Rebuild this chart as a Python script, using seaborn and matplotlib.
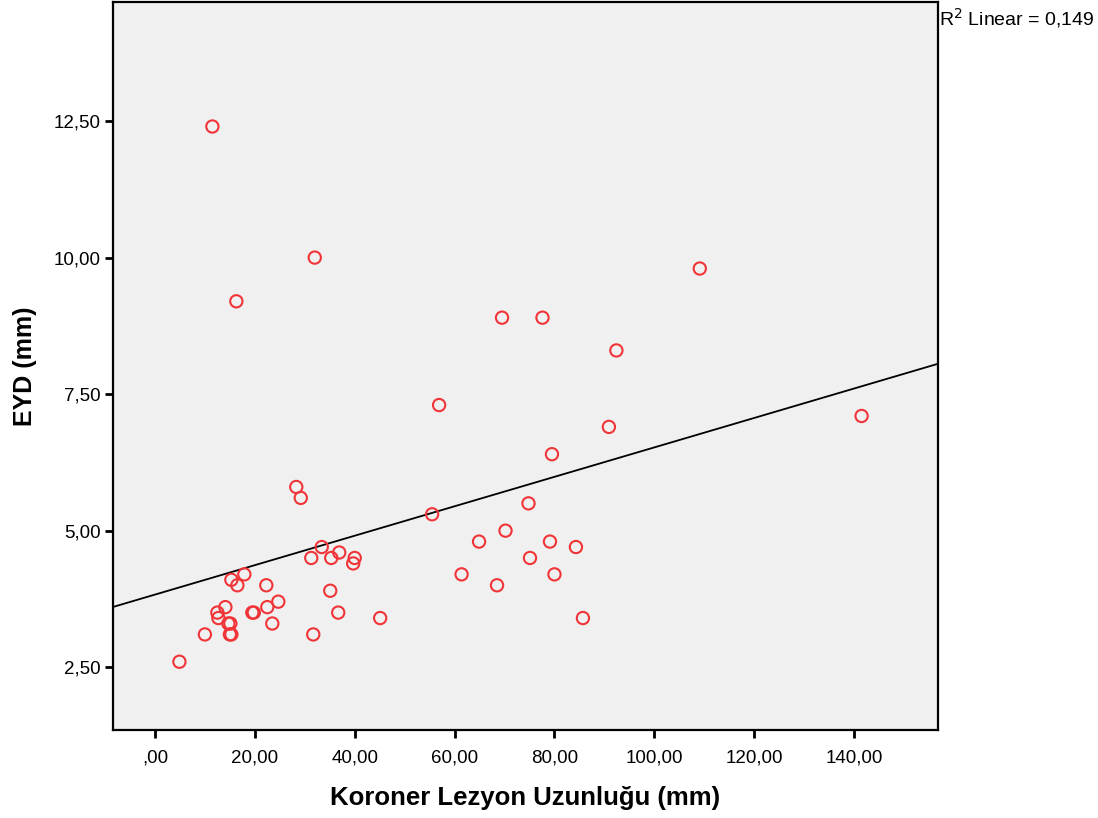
import numpy as np
import pandas as pd
import matplotlib
matplotlib.use("Agg")
import matplotlib.pyplot as plt
import seaborn as sns

# Data
lesion_length = [4.9, 10.0, 11.5, 12.5, 12.7, 14.1, 14.7, 15.1, 15.0, 15.3,
                 15.3, 16.3, 16.5, 17.9, 19.5, 19.8, 22.3, 22.5, 23.5, 24.7,
                 28.3, 29.2, 31.3, 31.7, 32.0, 33.4, 35.3, 35.1, 36.7, 36.9,
                 39.7, 40.0, 45.1, 55.5, 56.9, 61.4, 64.9, 68.5, 69.5, 70.2,
                 74.8, 75.1, 77.6, 79.1, 79.5, 80.0, 84.3, 85.7, 90.9, 92.4,
                 109.1, 141.5]
eyd = [2.6, 3.1, 12.4, 3.5, 3.4, 3.6, 3.3, 3.3, 3.1, 3.1,
       4.1, 9.2, 4.0, 4.2, 3.5, 3.5, 4.0, 3.6, 3.3, 3.7,
       5.8, 5.6, 4.5, 3.1, 10.0, 4.7, 4.5, 3.9, 3.5, 4.6,
       4.4, 4.5, 3.4, 5.3, 7.3, 4.2, 4.8, 4.0, 8.9, 5.0,
       5.5, 4.5, 8.9, 4.8, 6.4, 4.2, 4.7, 3.4, 6.9, 8.3,
       9.8, 7.1]

x_ticks = [0, 20, 40, 60, 80, 100, 120, 140]
x_tick_labels = [",00", "20,00", "40,00", "60,00", "80,00", "100,00", "120,00", "140,00"]
y_ticks = [2.5, 5.0, 7.5, 10.0, 12.5]
y_tick_labels = ["2,50", "5,00", "7,50", "10,00", "12,50"]

x_label = "Koroner Lezyon Uzunluğu (mm)"
y_label = "EYD (mm)"
r2_text = "R$^2$ Linear = 0,149"

df = pd.DataFrame({"x": lesion_length, "y": eyd})

sns.set_style("white")
plt.rcParams["font.family"] = ["Liberation Sans", "DejaVu Sans"]
plt.rcParams["text.color"] = "black"
plt.rcParams["axes.labelcolor"] = "black"
plt.rcParams["xtick.color"] = "black"
plt.rcParams["ytick.color"] = "black"

fig = plt.figure(figsize=(10.98, 8.18), dpi=100)
ax = fig.add_axes([113 / 1098, 1 - 730 / 818, (938 - 113) / 1098, (730 - 2) / 818])
ax.set_facecolor("#F0F0F0")
ax.set_xlim(-8.4, 156.8)
ax.set_ylim(1.35, 14.68)

sns.regplot(data=df, x="x", y="y", ax=ax, ci=None, truncate=False,
            scatter_kws=dict(s=78, facecolors="none", edgecolors="#F03438",
                             linewidths=1.5, zorder=3, alpha=1),
            line_kws=dict(color="black", lw=1.3, zorder=2))
ax.set_xlim(-8.4, 156.8)
ax.set_ylim(1.35, 14.68)

ax.set_xticks(x_ticks)
ax.set_xticklabels(x_tick_labels)
ax.set_yticks(y_ticks)
ax.set_yticklabels(y_tick_labels)
ax.tick_params(axis="both", direction="out", length=6, width=2, color="black",
               labelcolor="black", labelsize=13.5, pad=3, left=True, bottom=True)
ax.tick_params(axis="x", pad=8)

for s in ax.spines.values():
    s.set_color("black")
    s.set_linewidth(1.6)

ax.set_xlabel(x_label, fontsize=18.5, fontweight="bold", labelpad=14, color="black")
ax.set_ylabel(y_label, fontsize=18, fontweight="bold", labelpad=12, color="black")

fig.text(938 / 1098 + 0.001, 1 - 18 / 818, r2_text, fontsize=14, ha="left",
         va="center", color="black")

fig.savefig("out.png", dpi=100, facecolor="white")
